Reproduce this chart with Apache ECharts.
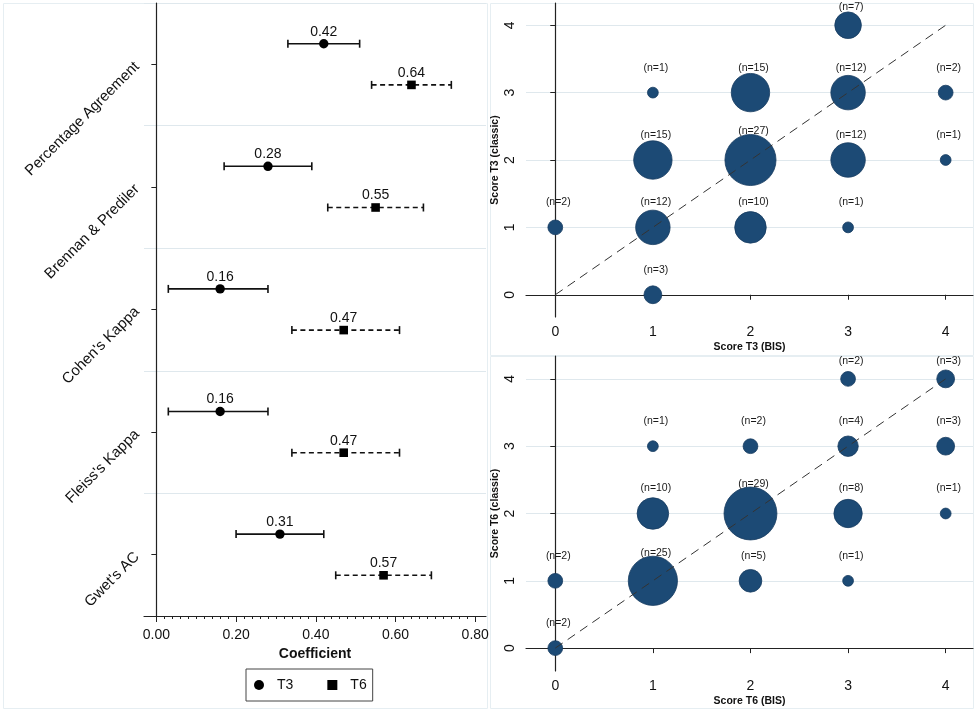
<!DOCTYPE html>
<html><head><meta charset="utf-8">
<script src="https://cdn.jsdelivr.net/npm/echarts@6/dist/echarts.min.js"></script>
<style>html,body{margin:0;padding:0;background:#fff}#c{width:976px;height:711px}</style>
</head><body><div id="c"></div>
<script>
// ---- Left panel: agreement coefficients ----
const methods = ['Percentage Agreement', 'Brennan & Prediler', "Cohen's Kappa", "Fleiss's Kappa", "Gwet's AC"];
const t3Est = [0.42, 0.28, 0.16, 0.16, 0.31];
const t3Lo  = [0.33, 0.17, 0.03, 0.03, 0.20];
const t3Hi  = [0.51, 0.39, 0.28, 0.28, 0.42];
const t6Est = [0.64, 0.55, 0.47, 0.47, 0.57];
const t6Lo  = [0.54, 0.43, 0.34, 0.34, 0.45];
const t6Hi  = [0.74, 0.67, 0.61, 0.61, 0.69];
const coefTicks = [0, 0.2, 0.4, 0.6, 0.8];
const coefMinorTicks = [];
for (let k = 0; k <= 40; k++) coefMinorTicks.push(+(k * 0.02).toFixed(2));

// ---- Right panels: bubble plots ----
const scoreTicks = [0, 1, 2, 3, 4];
const t3Bis     = [3, 1, 2, 3, 4, 1, 2, 3, 4, 0, 1, 2, 3, 1];
const t3Classic = [4, 3, 3, 3, 3, 2, 2, 2, 2, 1, 1, 1, 1, 0];
const t3N       = [7, 1, 15, 12, 2, 15, 27, 12, 1, 2, 12, 10, 1, 3];
const t6Bis     = [3, 4, 1, 2, 3, 4, 1, 2, 3, 4, 0, 1, 2, 3, 0];
const t6Classic = [4, 4, 3, 3, 3, 3, 2, 2, 2, 2, 1, 1, 1, 1, 0];
const t6N       = [2, 3, 1, 2, 4, 3, 10, 29, 8, 1, 2, 25, 5, 1, 2];
const diagonal  = [[0, 0], [4, 4]];

const FONT = '"Liberation Sans", Arial, Helvetica, sans-serif';
const AX = '#222';
const GRIDC = '#dfe8ed';
const NAVY = '#1c4a75';

function bubbleSize(n) { return 9.6 * Math.sqrt(n) + 1.2; }

function bubbleData(xs, ys, ns) {
  return ns.map((n, i) => {
    const r = bubbleSize(n) / 2;
    const off = ys[i] === 4 ? -18 : -Math.max(25, r + 3);
    return { value: [xs[i], ys[i], n], label: { offset: [3, off] } };
  });
}

function errRender(dir, dashed, shape) {
  return function (params, api) {
    const est = api.value(0), idx = api.value(1), lo = api.value(2), hi = api.value(3);
    const band = api.size([0, 1])[1];
    const p = api.coord([est, idx]);
    const y = p[1] + dir * band * 0.168;
    const xl = api.coord([lo, idx])[0];
    const xh = api.coord([hi, idx])[0];
    const st = { stroke: '#111', lineWidth: 1.6 };
    const children = [
      { type: 'line', shape: { x1: xl, y1: y, x2: xh, y2: y }, style: Object.assign({}, st, dashed ? { lineDash: [5, 3.5] } : {}) },
      { type: 'line', shape: { x1: xl, y1: y - 4, x2: xl, y2: y + 4 }, style: st },
      { type: 'line', shape: { x1: xh, y1: y - 4, x2: xh, y2: y + 4 }, style: st },
      shape === 'circle'
        ? { type: 'circle', shape: { cx: p[0], cy: y, r: 4.7 }, style: { fill: '#000' } }
        : { type: 'rect', shape: { x: p[0] - 4.3, y: y - 4.3, width: 8.6, height: 8.6 }, style: { fill: '#000' } },
      { type: 'text', x: p[0], y: y - 12,
        style: { text: est.toFixed(2), font: '14px ' + FONT, fill: '#111',
                 align: 'center', verticalAlign: 'middle', textAlign: 'center', textVerticalAlign: 'middle' } }
    ];
    return { type: 'group', children };
  };
}

function scoreX(gridIndex, name) {
  return {
    type: 'value', gridIndex, min: -0.3, max: 4.28,
    name, nameLocation: 'middle', nameGap: 25,
    nameTextStyle: { fontFamily: FONT, fontWeight: 'bold', fontSize: 10.5, color: '#111' },
    axisLine: { show: true, lineStyle: { color: AX, width: 1.2 } },
    axisTick: { show: true, length: 5, customValues: scoreTicks, lineStyle: { color: AX } },
    axisLabel: { customValues: scoreTicks, margin: 8, fontFamily: FONT, fontSize: 14, color: '#111' },
    splitLine: { show: false }
  };
}
function scoreY(gridIndex, name, mn, mx) {
  return {
    type: 'value', gridIndex, min: mn, max: mx,
    name, nameLocation: 'middle', nameGap: 25, nameRotate: 90,
    nameTextStyle: { fontFamily: FONT, fontWeight: 'bold', fontSize: 10.5, color: '#111' },
    axisLine: { show: true, lineStyle: { color: AX, width: 1.2 } },
    axisTick: { show: true, length: 5, customValues: scoreTicks, lineStyle: { color: AX } },
    axisLabel: { customValues: scoreTicks, rotate: 90, margin: 9, fontFamily: FONT, fontSize: 14, color: '#111' },
    splitLine: { show: true, lineStyle: { color: GRIDC, width: 1 } }
  };
}

const option = {
  animation: false,
  backgroundColor: '#fff',
  textStyle: { fontFamily: FONT },
  grid: [
    { left: 144, right: 490, top: 3, bottom: 95 },
    { left: 526, right: 3, top: 3, bottom: 394 },
    { left: 526, right: 3, top: 356, bottom: 40 }
  ],
  xAxis: [
    {
      type: 'value', gridIndex: 0, min: -0.031, max: 0.827,
      name: 'Coefficient', nameLocation: 'middle', nameGap: 30,
      nameTextStyle: { fontFamily: FONT, fontWeight: 'bold', fontSize: 14, color: '#111' },
      axisLine: { show: true, lineStyle: { color: AX, width: 1.2 } },
      axisTick: { show: true, length: 6, customValues: coefTicks, lineStyle: { color: AX } },
      axisLabel: { customValues: coefTicks, margin: 12, fontFamily: FONT, fontSize: 14, color: '#111',
                   formatter: v => v.toFixed(2) },
      splitLine: { show: false }
    },
    {
      type: 'value', gridIndex: 0, min: -0.031, max: 0.827, position: 'bottom',
      axisLine: { show: false },
      axisTick: { show: true, length: 3, customValues: coefMinorTicks, lineStyle: { color: AX } },
      axisLabel: { show: false },
      splitLine: { show: false }
    },
    scoreX(1, 'Score T3 (BIS)'),
    scoreX(2, 'Score T6 (BIS)')
  ],
  yAxis: [
    {
      type: 'category', gridIndex: 0, data: methods, inverse: true, boundaryGap: true,
      axisLine: { show: true, lineStyle: { color: AX, width: 1.2 } },
      axisTick: { show: true, alignWithLabel: true, length: 5, lineStyle: { color: AX } },
      axisLabel: { rotate: 45, margin: 7, fontFamily: FONT, fontSize: 15, color: '#111', interval: 0 },
      splitLine: { show: true, lineStyle: { color: GRIDC, width: 1.2 } }
    },
    scoreY(1, 'Score T3 (classic)', -0.33, 4.33),
    scoreY(2, 'Score T6 (classic)', -0.34, 4.34)
  ],
  legend: {
    left: 246, top: 669,
    data: [{ name: 'T3', icon: 'circle' }, { name: 'T6', icon: 'rect' }],
    itemWidth: 10, itemHeight: 10, itemGap: 34,
    padding: [9, 6, 9, 8],
    borderColor: '#444', borderWidth: 1, borderRadius: 0,
    formatter: '{t|{name}}',
    textStyle: { fontFamily: FONT, fontSize: 14, color: '#111',
                 rich: { t: { padding: [0, 0, 0, 8], fontFamily: FONT, fontSize: 14, color: '#111' } } },
    selectedMode: false
  },
  graphic: [
    { type: 'rect', z: -10, shape: { x: 3.5, y: 3.5, width: 484, height: 705 }, style: { fill: 'none', stroke: '#e6eef2', lineWidth: 1 } },
    { type: 'rect', z: -10, shape: { x: 490.5, y: 3.5, width: 483, height: 352 }, style: { fill: 'none', stroke: '#e6eef2', lineWidth: 1 } },
    { type: 'rect', z: -10, shape: { x: 490.5, y: 356.5, width: 483, height: 352 }, style: { fill: 'none', stroke: '#e6eef2', lineWidth: 1 } }
  ],
  series: [
    {
      name: 'T3', type: 'custom', xAxisIndex: 0, yAxisIndex: 0, clip: false, silent: true,
      itemStyle: { color: '#000' },
      encode: { x: 0, y: 1 },
      data: methods.map((m, i) => [t3Est[i], i, t3Lo[i], t3Hi[i]]),
      renderItem: errRender(-1, false, 'circle')
    },
    {
      name: 'T6', type: 'custom', xAxisIndex: 0, yAxisIndex: 0, clip: false, silent: true,
      itemStyle: { color: '#000' },
      encode: { x: 0, y: 1 },
      data: methods.map((m, i) => [t6Est[i], i, t6Lo[i], t6Hi[i]]),
      renderItem: errRender(1, true, 'rect')
    },
    {
      type: 'scatter', xAxisIndex: 2, yAxisIndex: 1, silent: true, z: 2,
      symbolSize: v => bubbleSize(v[2]),
      itemStyle: { color: NAVY, borderColor: '#163b5f', borderWidth: 0.8, opacity: 1 },
      label: { show: true, position: 'inside', formatter: p => '(n=' + p.value[2] + ')',
               fontFamily: FONT, fontSize: 10.5, color: '#1a1a1a' },
      data: bubbleData(t3Bis, t3Classic, t3N)
    },
    {
      type: 'line', xAxisIndex: 2, yAxisIndex: 1, silent: true, z: 5, showSymbol: false,
      lineStyle: { color: '#333', width: 1, type: [9, 6] },
      data: diagonal
    },
    {
      type: 'scatter', xAxisIndex: 3, yAxisIndex: 2, silent: true, z: 2,
      symbolSize: v => bubbleSize(v[2]),
      itemStyle: { color: NAVY, borderColor: '#163b5f', borderWidth: 0.8, opacity: 1 },
      label: { show: true, position: 'inside', formatter: p => '(n=' + p.value[2] + ')',
               fontFamily: FONT, fontSize: 10.5, color: '#1a1a1a' },
      data: bubbleData(t6Bis, t6Classic, t6N)
    },
    {
      type: 'line', xAxisIndex: 3, yAxisIndex: 2, silent: true, z: 5, showSymbol: false,
      lineStyle: { color: '#333', width: 1, type: [9, 6] },
      data: diagonal
    }
  ]
};

const chart = echarts.init(document.getElementById('c'));
chart.setOption(option);
</script>
</body></html>
